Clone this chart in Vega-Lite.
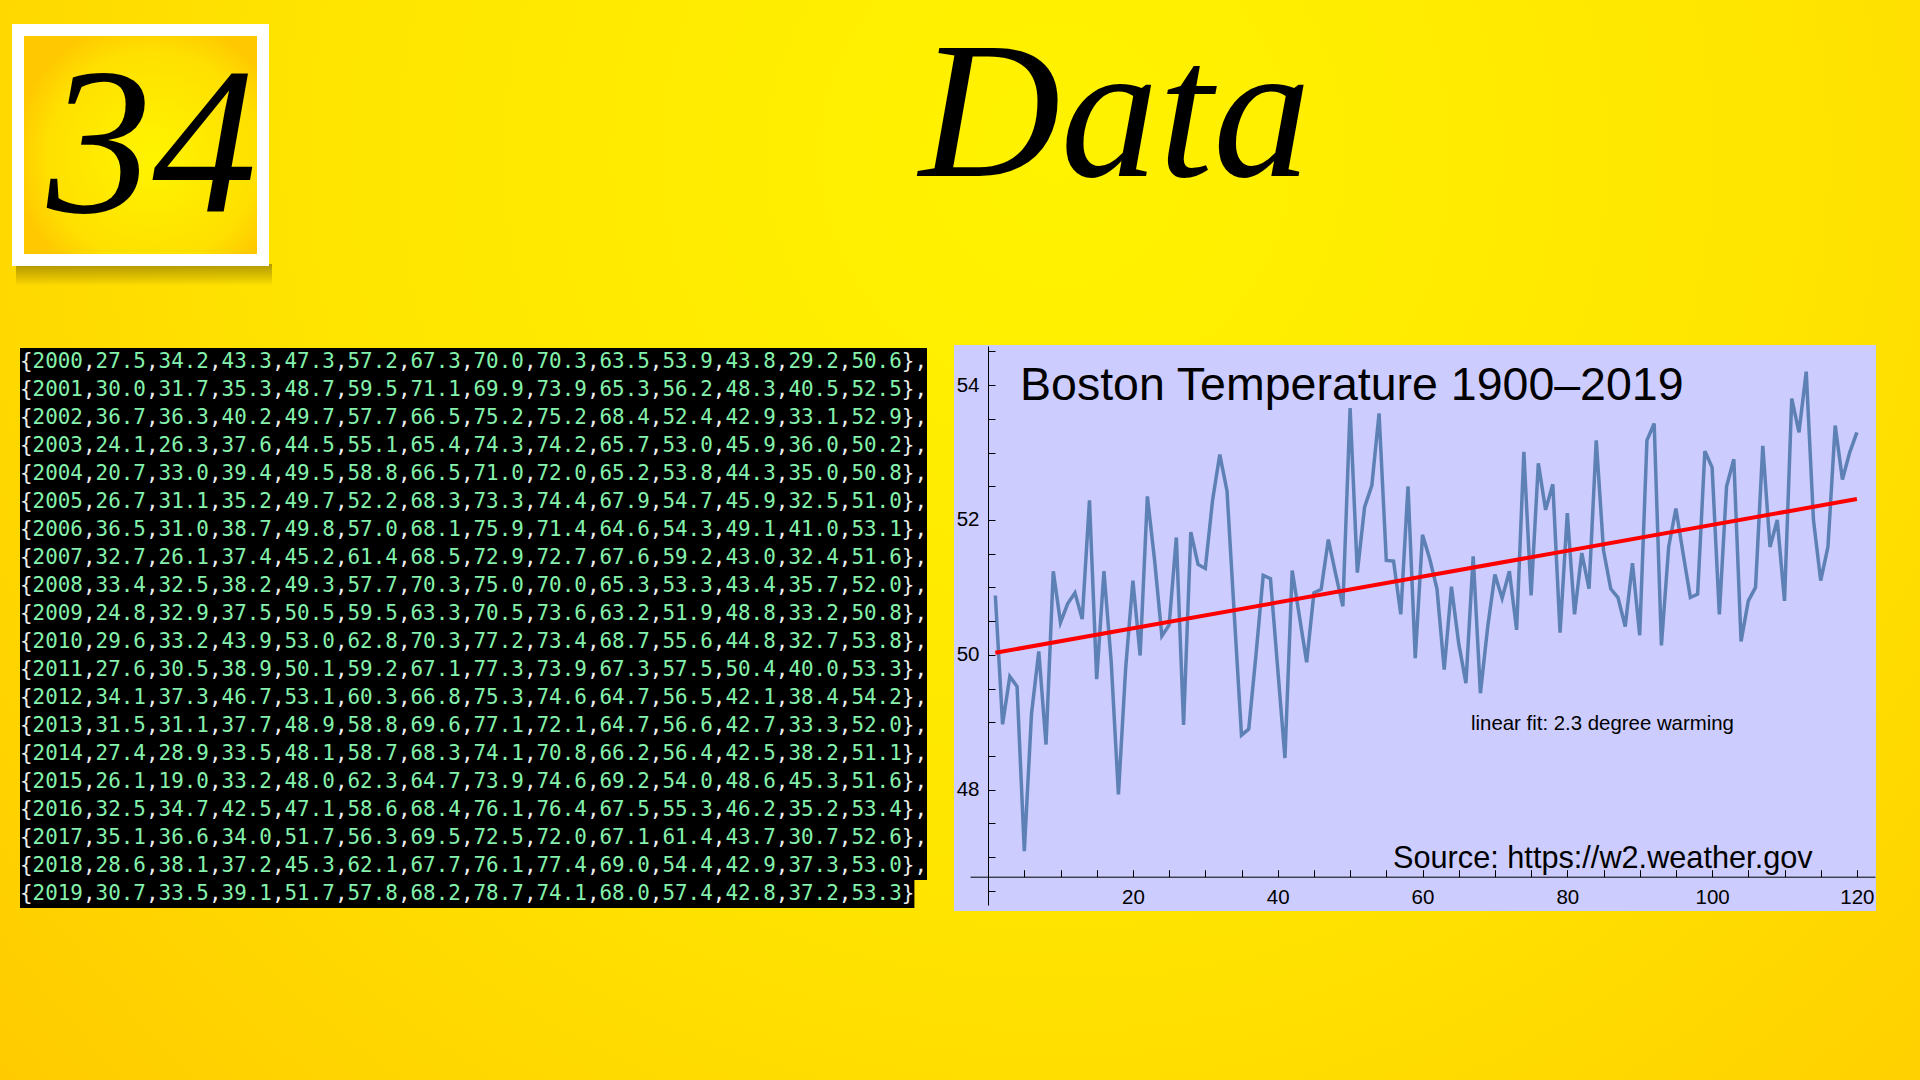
{
  "$schema": "https://vega.github.io/schema/vega-lite/v6.json",
  "width": 1920,
  "height": 1080,
  "autosize": {"type": "none"},
  "padding": 0,
  "background": "#FFD600",
  "config": {"view": {"stroke": null}},
  "datasets": {
    "rows": [
      {"year": 2000, "line": "{2000,27.5,34.2,43.3,47.3,57.2,67.3,70.0,70.3,63.5,53.9,43.8,29.2,50.6},"},
      {"year": 2001, "line": "{2001,30.0,31.7,35.3,48.7,59.5,71.1,69.9,73.9,65.3,56.2,48.3,40.5,52.5},"},
      {"year": 2002, "line": "{2002,36.7,36.3,40.2,49.7,57.7,66.5,75.2,75.2,68.4,52.4,42.9,33.1,52.9},"},
      {"year": 2003, "line": "{2003,24.1,26.3,37.6,44.5,55.1,65.4,74.3,74.2,65.7,53.0,45.9,36.0,50.2},"},
      {"year": 2004, "line": "{2004,20.7,33.0,39.4,49.5,58.8,66.5,71.0,72.0,65.2,53.8,44.3,35.0,50.8},"},
      {"year": 2005, "line": "{2005,26.7,31.1,35.2,49.7,52.2,68.3,73.3,74.4,67.9,54.7,45.9,32.5,51.0},"},
      {"year": 2006, "line": "{2006,36.5,31.0,38.7,49.8,57.0,68.1,75.9,71.4,64.6,54.3,49.1,41.0,53.1},"},
      {"year": 2007, "line": "{2007,32.7,26.1,37.4,45.2,61.4,68.5,72.9,72.7,67.6,59.2,43.0,32.4,51.6},"},
      {"year": 2008, "line": "{2008,33.4,32.5,38.2,49.3,57.7,70.3,75.0,70.0,65.3,53.3,43.4,35.7,52.0},"},
      {"year": 2009, "line": "{2009,24.8,32.9,37.5,50.5,59.5,63.3,70.5,73.6,63.2,51.9,48.8,33.2,50.8},"},
      {"year": 2010, "line": "{2010,29.6,33.2,43.9,53.0,62.8,70.3,77.2,73.4,68.7,55.6,44.8,32.7,53.8},"},
      {"year": 2011, "line": "{2011,27.6,30.5,38.9,50.1,59.2,67.1,77.3,73.9,67.3,57.5,50.4,40.0,53.3},"},
      {"year": 2012, "line": "{2012,34.1,37.3,46.7,53.1,60.3,66.8,75.3,74.6,64.7,56.5,42.1,38.4,54.2},"},
      {"year": 2013, "line": "{2013,31.5,31.1,37.7,48.9,58.8,69.6,77.1,72.1,64.7,56.6,42.7,33.3,52.0},"},
      {"year": 2014, "line": "{2014,27.4,28.9,33.5,48.1,58.7,68.3,74.1,70.8,66.2,56.4,42.5,38.2,51.1},"},
      {"year": 2015, "line": "{2015,26.1,19.0,33.2,48.0,62.3,64.7,73.9,74.6,69.2,54.0,48.6,45.3,51.6},"},
      {"year": 2016, "line": "{2016,32.5,34.7,42.5,47.1,58.6,68.4,76.1,76.4,67.5,55.3,46.2,35.2,53.4},"},
      {"year": 2017, "line": "{2017,35.1,36.6,34.0,51.7,56.3,69.5,72.5,72.0,67.1,61.4,43.7,30.7,52.6},"},
      {"year": 2018, "line": "{2018,28.6,38.1,37.2,45.3,62.1,67.7,76.1,77.4,69.0,54.4,42.9,37.3,53.0},"},
      {"year": 2019, "line": "{2019,30.7,33.5,39.1,51.7,57.8,68.2,78.7,74.1,68.0,57.4,42.8,37.2,53.3}"}
    ],
    "temps": [
      {"index": 1, "temp": 50.88}, {"index": 2, "temp": 48.97}, {"index": 3, "temp": 49.68}, {"index": 4, "temp": 49.53},
      {"index": 5, "temp": 47.09}, {"index": 6, "temp": 49.13}, {"index": 7, "temp": 50.05}, {"index": 8, "temp": 48.67},
      {"index": 9, "temp": 51.24}, {"index": 10, "temp": 50.48}, {"index": 11, "temp": 50.76}, {"index": 12, "temp": 50.92},
      {"index": 13, "temp": 50.53}, {"index": 14, "temp": 52.29}, {"index": 15, "temp": 49.64}, {"index": 16, "temp": 51.24},
      {"index": 17, "temp": 49.9}, {"index": 18, "temp": 47.93}, {"index": 19, "temp": 49.8}, {"index": 20, "temp": 51.1},
      {"index": 21, "temp": 49.99}, {"index": 22, "temp": 52.35}, {"index": 23, "temp": 51.4}, {"index": 24, "temp": 50.28},
      {"index": 25, "temp": 50.44}, {"index": 26, "temp": 51.74}, {"index": 27, "temp": 48.96}, {"index": 28, "temp": 51.82},
      {"index": 29, "temp": 51.34}, {"index": 30, "temp": 51.28}, {"index": 31, "temp": 52.29}, {"index": 32, "temp": 52.97},
      {"index": 33, "temp": 52.43}, {"index": 34, "temp": 50.6}, {"index": 35, "temp": 48.81}, {"index": 36, "temp": 48.9},
      {"index": 37, "temp": 50.0}, {"index": 38, "temp": 51.18}, {"index": 39, "temp": 51.13}, {"index": 40, "temp": 49.8},
      {"index": 41, "temp": 48.47}, {"index": 42, "temp": 51.25}, {"index": 43, "temp": 50.57}, {"index": 44, "temp": 49.89},
      {"index": 45, "temp": 50.92}, {"index": 46, "temp": 50.97}, {"index": 47, "temp": 51.71}, {"index": 48, "temp": 51.2},
      {"index": 49, "temp": 50.72}, {"index": 50, "temp": 53.66}, {"index": 51, "temp": 51.22}, {"index": 52, "temp": 52.19},
      {"index": 53, "temp": 52.51}, {"index": 54, "temp": 53.58}, {"index": 55, "temp": 51.4}, {"index": 56, "temp": 51.39},
      {"index": 57, "temp": 50.6}, {"index": 58, "temp": 52.5}, {"index": 59, "temp": 49.95}, {"index": 60, "temp": 51.78},
      {"index": 61, "temp": 51.42}, {"index": 62, "temp": 50.98}, {"index": 63, "temp": 49.78}, {"index": 64, "temp": 51.01},
      {"index": 65, "temp": 50.17}, {"index": 66, "temp": 49.58}, {"index": 67, "temp": 51.46}, {"index": 68, "temp": 49.43},
      {"index": 69, "temp": 50.41}, {"index": 70, "temp": 51.19}, {"index": 71, "temp": 50.84}, {"index": 72, "temp": 51.24},
      {"index": 73, "temp": 50.37}, {"index": 74, "temp": 53.01}, {"index": 75, "temp": 50.88}, {"index": 76, "temp": 52.84},
      {"index": 77, "temp": 52.15}, {"index": 78, "temp": 52.53}, {"index": 79, "temp": 50.33}, {"index": 80, "temp": 52.1},
      {"index": 81, "temp": 50.6}, {"index": 82, "temp": 51.51}, {"index": 83, "temp": 50.98}, {"index": 84, "temp": 53.18},
      {"index": 85, "temp": 51.55}, {"index": 86, "temp": 50.98}, {"index": 87, "temp": 50.85}, {"index": 88, "temp": 50.42},
      {"index": 89, "temp": 51.36}, {"index": 90, "temp": 50.29}, {"index": 91, "temp": 53.18}, {"index": 92, "temp": 53.43},
      {"index": 93, "temp": 50.14}, {"index": 94, "temp": 51.6}, {"index": 95, "temp": 52.17}, {"index": 96, "temp": 51.5},
      {"index": 97, "temp": 50.85}, {"index": 98, "temp": 50.9}, {"index": 99, "temp": 53.02}, {"index": 100, "temp": 52.78},
      {"index": 101, "temp": 50.6}, {"index": 102, "temp": 52.5}, {"index": 103, "temp": 52.9}, {"index": 104, "temp": 50.2},
      {"index": 105, "temp": 50.8}, {"index": 106, "temp": 51.0}, {"index": 107, "temp": 53.1}, {"index": 108, "temp": 51.6},
      {"index": 109, "temp": 52.0}, {"index": 110, "temp": 50.8}, {"index": 111, "temp": 53.8}, {"index": 112, "temp": 53.3},
      {"index": 113, "temp": 54.2}, {"index": 114, "temp": 52.0}, {"index": 115, "temp": 51.1}, {"index": 116, "temp": 51.6},
      {"index": 117, "temp": 53.4}, {"index": 118, "temp": 52.6}, {"index": 119, "temp": 53.0}, {"index": 120, "temp": 53.3}
    ],
    "fit": [
      {"index": 1, "temp": 50.03},
      {"index": 120, "temp": 52.31}
    ]
  },
  "layer": [
    {
      "data": {"values": [{"part": "background"}]},
      "mark": {"type": "rect", "x": 0, "y": 0, "x2": 1920, "y2": 1080,
        "color": {"gradient": "radial", "x1": 0.55, "y1": 0.3, "r1": 0, "x2": 0.55, "y2": 0.3, "r2": 0.85,
          "stops": [{"offset": 0, "color": "#FFF300"}, {"offset": 0.45, "color": "#FFE500"}, {"offset": 1, "color": "#FFC200"}]}},
      "encoding": {}
    },
    {
      "data": {"values": [{"part": "badge shadow"}]},
      "mark": {"type": "rect", "x": 16, "y": 264, "x2": 272, "y2": 286,
        "color": {"gradient": "linear", "x1": 0, "y1": 0, "x2": 0, "y2": 1,
          "stops": [{"offset": 0, "color": "rgba(110,90,0,0.55)"}, {"offset": 1, "color": "rgba(110,90,0,0)"}]}},
      "encoding": {}
    },
    {
      "data": {"values": [{"part": "badge frame"}]},
      "mark": {"type": "rect", "x": 12, "y": 24, "x2": 269, "y2": 266, "color": "#FFFFFF"},
      "encoding": {}
    },
    {
      "data": {"values": [{"part": "badge fill"}]},
      "mark": {"type": "rect", "x": 24, "y": 36, "x2": 257, "y2": 254,
        "color": {"gradient": "radial", "x1": 0.55, "y1": 0.55, "r1": 0, "x2": 0.55, "y2": 0.55, "r2": 0.6,
          "stops": [{"offset": 0, "color": "#FFF400"}, {"offset": 0.75, "color": "#FFE000"}, {"offset": 1, "color": "#FFC800"}]}},
      "encoding": {}
    },
    {
      "data": {"values": [{"label": "34"}]},
      "mark": {"type": "text", "x": 152, "y": 212, "align": "center", "baseline": "alphabetic", "font": "Liberation Serif", "fontStyle": "italic", "fontSize": 210, "color": "#000000"},
      "encoding": {"text": {"field": "label"}}
    },
    {
      "data": {"values": [{"label": "Data"}]},
      "mark": {"type": "text", "x": 1115, "y": 176, "align": "center", "baseline": "alphabetic", "font": "Liberation Serif", "fontStyle": "italic", "fontSize": 196, "color": "#000000"},
      "encoding": {"text": {"field": "label"}}
    },
    {
      "data": {"name": "rows"},
      "transform": [
        {"calculate": "length(datum.line)", "as": "chars"}
      ],
      "encoding": {
        "y": {"field": "year", "type": "ordinal", "scale": {"type": "band", "range": [348, 908], "paddingInner": 0, "paddingOuter": 0}, "axis": null}
      },
      "layer": [
        {
          "mark": {"type": "rect", "color": "#000000"},
          "encoding": {
            "x": {"field": "chars", "type": "quantitative", "scale": {"domain": [0, 72], "range": [20, 927], "nice": false, "zero": true}, "axis": null},
            "x2": {"datum": 0}
          }
        },
        {
          "mark": {"type": "text", "text": "{", "align": "left", "baseline": "middle", "font": "DejaVu Sans Mono", "fontSize": 20.9, "color": "#EEEEEE"},
          "encoding": {"x": {"datum": 0, "type": "quantitative"}}
        },
        {
          "transform": [
            {"calculate": "split(substring(datum.line, 1, 70), ',')", "as": "vals"},
            {"flatten": ["vals"], "as": ["val"]},
            {"window": [{"op": "row_number", "as": "k"}], "groupby": ["year"]},
            {"calculate": "datum.k < 14 ? ',' : substring(datum.line, 70)", "as": "sep"},
            {"calculate": "5 * datum.k", "as": "seppos"}
          ],
          "mark": {"type": "text", "align": "left", "baseline": "middle", "font": "DejaVu Sans Mono", "fontSize": 20.9, "color": "#EEEEEE"},
          "encoding": {"x": {"field": "seppos", "type": "quantitative"}, "text": {"field": "sep"}}
        },
        {
          "transform": [
            {"calculate": "split(substring(datum.line, 1, 70), ',')", "as": "vals"},
            {"flatten": ["vals"], "as": ["val"]},
            {"window": [{"op": "row_number", "as": "k"}], "groupby": ["year"]},
            {"calculate": "5 * datum.k - 4", "as": "valpos"}
          ],
          "mark": {"type": "text", "align": "left", "baseline": "middle", "font": "DejaVu Sans Mono", "fontSize": 20.9, "color": "#84F2AC"},
          "encoding": {"x": {"field": "valpos", "type": "quantitative"}, "text": {"field": "val"}}
        }
      ]
    },
    {
      "data": {"values": [{"part": "plot panel"}]},
      "mark": {"type": "rect", "x": 954, "y": 345, "x2": 1876, "y2": 911, "color": "#CCCCFF"},
      "encoding": {}
    },
    {
      "layer": [
        {
          "data": {"name": "temps"},
          "mark": {"type": "line", "color": "#5E81B5", "strokeWidth": 3.5},
          "encoding": {
            "x": {"field": "index", "type": "quantitative",
              "scale": {"domain": [-2.5, 122.5], "range": [970, 1875], "nice": false, "zero": false},
              "axis": {"orient": "bottom", "offset": -203.3, "zindex": 1, "title": null, "grid": false,
                "values": [5, 10, 15, 20, 25, 30, 35, 40, 45, 50, 55, 60, 65, 70, 75, 80, 85, 90, 95, 100, 105, 110, 115, 120],
                "labelExpr": "datum.value % 20 === 0 ? '' + datum.value : ''",
                "tickSize": -7,
                "domainColor": "#000000", "tickColor": "#000000", "domainWidth": 1, "tickWidth": 1,
                "labelColor": "#000000", "labelFont": "Liberation Sans", "labelFontSize": 20.5, "labelPadding": 18,
                "labelFlush": false, "labelOverlap": false}},
            "y": {"field": "temp", "type": "quantitative",
              "scale": {"domain": [46.29, 54.58], "range": [905, 346], "nice": false, "zero": false},
              "axis": {"orient": "left", "offset": -988, "zindex": 1, "title": null, "grid": false,
                "values": [46.5, 47, 47.5, 48, 48.5, 49, 49.5, 50, 50.5, 51, 51.5, 52, 52.5, 53, 53.5, 54, 54.5],
                "labelExpr": "datum.value % 2 === 0 ? '' + datum.value : ''",
                "tickSize": -7,
                "domainColor": "#000000", "tickColor": "#000000", "domainWidth": 1, "tickWidth": 1,
                "labelColor": "#000000", "labelFont": "Liberation Sans", "labelFontSize": 20.5, "labelPadding": 16,
                "labelFlush": false, "labelOverlap": false}}
          }
        },
        {
          "data": {"name": "fit"},
          "mark": {"type": "line", "color": "#FF0000", "strokeWidth": 4},
          "encoding": {
            "x": {"field": "index", "type": "quantitative"},
            "y": {"field": "temp", "type": "quantitative"}
          }
        }
      ]
    },
    {
      "data": {"values": [{"label": "Boston Temperature 1900\u20132019"}]},
      "mark": {"type": "text", "x": 1020, "y": 400, "align": "left", "baseline": "alphabetic", "font": "Liberation Sans", "fontSize": 46.5, "color": "#000000"},
      "encoding": {"text": {"field": "label"}}
    },
    {
      "data": {"values": [{"label": "linear fit: 2.3 degree warming"}]},
      "mark": {"type": "text", "x": 1471, "y": 730, "align": "left", "baseline": "alphabetic", "font": "Liberation Sans", "fontSize": 20.4, "color": "#000000"},
      "encoding": {"text": {"field": "label"}}
    },
    {
      "data": {"values": [{"label": "Source: https://w2.weather.gov"}]},
      "mark": {"type": "text", "x": 1393, "y": 868, "align": "left", "baseline": "alphabetic", "font": "Liberation Sans", "fontSize": 30.7, "color": "#000000"},
      "encoding": {"text": {"field": "label"}}
    }
  ],
  "resolve": {"scale": {"x": "independent", "y": "independent"}, "axis": {"x": "independent", "y": "independent"}}
}
